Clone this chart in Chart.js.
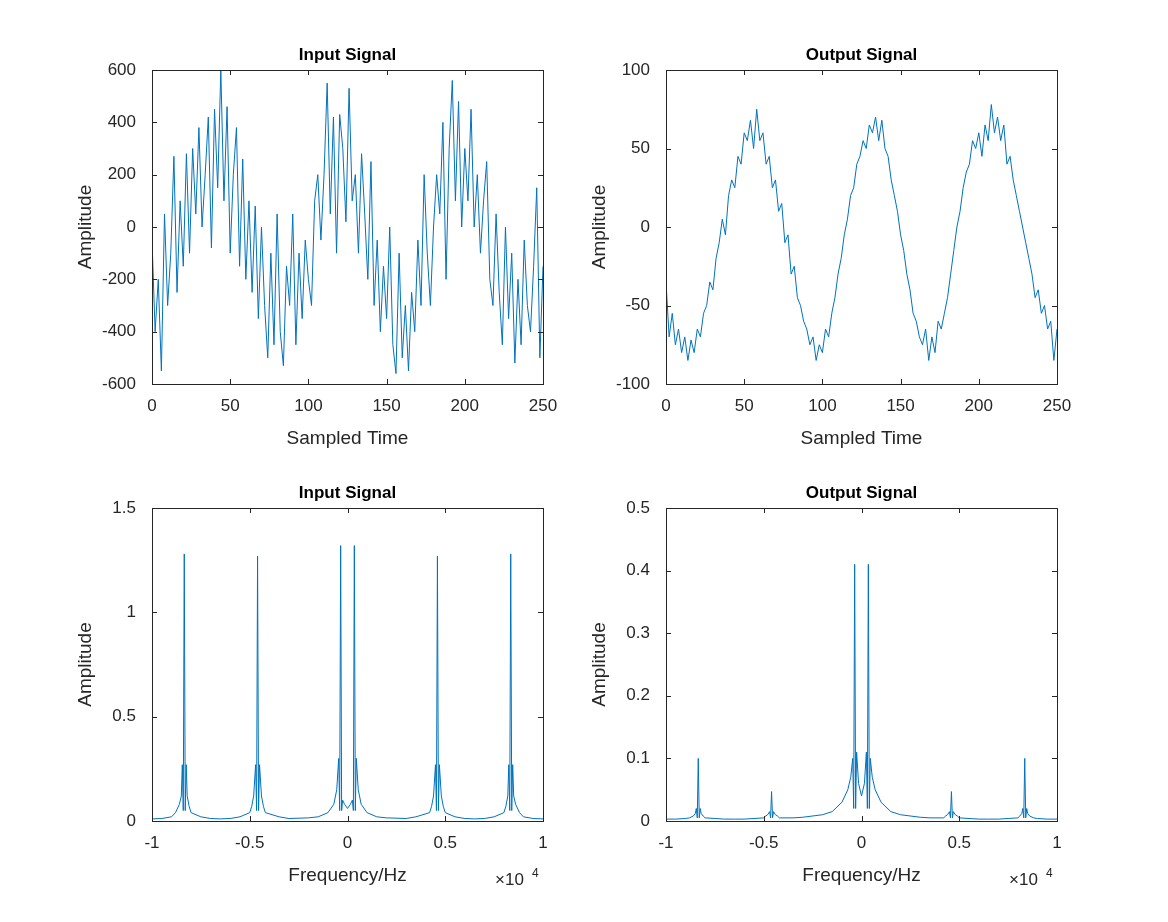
<!DOCTYPE html>
<html><head><meta charset="utf-8">
<script src="https://cdn.jsdelivr.net/npm/chart.js@4/dist/chart.umd.min.js"></script>
<style>
body{margin:0;background:#fff;width:1168px;height:922px;position:relative;overflow:hidden}
.c{position:absolute}
</style></head><body>
<div class="c" style="left:70px;top:44px;width:503px;height:410px"><canvas id="c1"></canvas></div>
<div class="c" style="left:584px;top:44px;width:503px;height:410px"><canvas id="c2"></canvas></div>
<div class="c" style="left:70px;top:482px;width:503px;height:409px"><canvas id="c3"></canvas></div>
<div class="c" style="left:584px;top:482px;width:503px;height:409px"><canvas id="c4"></canvas></div>
<script>
const inputSignal = [-50,-400,-200,-550,50,-300,-100,270,-250,100,-150,280,-100,300,50,380,0,200,420,-80,450,150,600,100,460,-100,200,380,-150,260,-200,100,-250,80,-350,0,-300,-500,-100,-450,50,-400,-530,-150,-300,50,-450,-100,-350,-50,-200,-300,100,200,-50,200,550,50,420,-100,430,300,20,530,100,200,-100,280,50,-200,250,-300,-50,-400,-150,-350,0,-450,-560,-100,-500,-300,-550,-250,-400,-50,-300,200,-100,-300,0,200,50,400,-200,300,560,100,480,0,300,100,450,0,200,-100,100,250,-200,-300,50,-250,-450,0,-350,-100,-520,-200,-450,-50,-300,-400,-150,150,-500,-150];
const outputSignal = [-35,-70,-55,-75,-65,-80,-70,-85,-72,-80,-65,-70,-55,-50,-35,-40,-20,-10,5,-5,20,30,25,45,40,60,55,68,50,75,55,60,40,45,25,30,10,15,-10,-5,-30,-25,-45,-50,-60,-65,-75,-70,-85,-75,-80,-65,-70,-55,-45,-30,-20,-5,5,20,25,40,45,55,50,65,60,70,55,68,50,45,30,20,10,-5,-15,-30,-40,-55,-60,-70,-75,-65,-85,-70,-80,-60,-65,-55,-45,-30,-15,0,10,25,35,40,55,50,60,45,65,55,78,60,70,55,65,40,45,30,20,10,0,-10,-20,-30,-45,-40,-55,-50,-65,-60,-85,-65];
const sampleTime = inputSignal.map((_, i) => i * 2);

const freqHz = [-10000,-9500,-9000,-8800,-8600,-8500,-8450,-8400,-8350,-8300,-8250,-8200,-8100,-8000,-7500,-7000,-6500,-6000,-5500,-5000,-4900,-4800,-4700,-4650,-4600,-4550,-4500,-4400,-4300,-4200,-3500,-3000,-2000,-1500,-1000,-700,-550,-450,-400,-350,-300,-250,-150,0,150,250,300,350,400,450,550,700,1000,1500,2000,3000,3500,4200,4300,4400,4500,4550,4600,4650,4700,4800,4900,5000,5500,6000,6500,7000,7500,8000,8100,8200,8250,8300,8350,8400,8450,8500,8600,8800,9000,9500,10000];
const inputSpectrum = [0.01,0.012,0.02,0.04,0.08,0.12,0.27,0.05,1.28,0.05,0.27,0.12,0.07,0.04,0.02,0.012,0.01,0.012,0.02,0.04,0.07,0.12,0.27,0.05,1.27,0.05,0.27,0.12,0.07,0.04,0.02,0.012,0.015,0.02,0.04,0.08,0.15,0.3,0.05,1.32,0.05,0.1,0.08,0.06,0.08,0.1,0.05,1.32,0.05,0.3,0.15,0.08,0.04,0.02,0.015,0.012,0.02,0.04,0.07,0.12,0.27,0.05,1.27,0.05,0.27,0.12,0.07,0.04,0.02,0.012,0.01,0.012,0.02,0.04,0.07,0.12,0.27,0.05,1.28,0.05,0.27,0.12,0.08,0.04,0.02,0.012,0.01];
const outputSpectrum = [0.003,0.003,0.004,0.005,0.008,0.012,0.02,0.005,0.1,0.005,0.02,0.012,0.008,0.005,0.004,0.003,0.003,0.003,0.004,0.005,0.008,0.01,0.015,0.005,0.047,0.005,0.015,0.01,0.008,0.005,0.005,0.006,0.01,0.015,0.03,0.05,0.07,0.1,0.02,0.41,0.02,0.11,0.06,0.04,0.06,0.11,0.02,0.41,0.02,0.1,0.07,0.05,0.03,0.015,0.01,0.006,0.005,0.005,0.008,0.01,0.015,0.005,0.047,0.005,0.015,0.01,0.008,0.005,0.004,0.003,0.003,0.003,0.004,0.005,0.008,0.012,0.02,0.005,0.1,0.005,0.02,0.012,0.008,0.005,0.004,0.003,0.003];

const FONT = "'Liberation Sans', Arial, sans-serif";
const TXT = '#262626';
const boxPlugin = {
  id:'box',
  afterDraw(chart){
    const {ctx, chartArea:a, scales} = chart;
    ctx.save();
    ctx.strokeStyle = '#262626'; ctx.lineWidth = 1;
    ctx.strokeRect(Math.round(a.left)+0.5, Math.round(a.top)+0.5, Math.round(a.right-a.left), Math.round(a.bottom-a.top));
    const L = 5;
    ctx.beginPath();
    scales.x.ticks.forEach(t=>{ const p=Math.round(scales.x.getPixelForValue(t.value))+0.5;
      ctx.moveTo(p,a.bottom); ctx.lineTo(p,a.bottom-L); ctx.moveTo(p,a.top); ctx.lineTo(p,a.top+L);});
    scales.y.ticks.forEach(t=>{ const p=Math.round(scales.y.getPixelForValue(t.value))+0.5;
      ctx.moveTo(a.left,p); ctx.lineTo(a.left+L,p); ctx.moveTo(a.right,p); ctx.lineTo(a.right-L,p);});
    ctx.stroke();
    ctx.fillStyle = '#000'; ctx.textAlign='center'; ctx.textBaseline='alphabetic';
    ctx.font = 'bold 17px '+FONT;
    ctx.fillText(chart.options.plugins.boxTitle, (a.left+a.right)/2, a.top-10);
    if (chart.options.plugins.expLabel) {
      ctx.fillStyle = TXT; ctx.textAlign='left';
      ctx.font = '17px '+FONT;
      ctx.fillText('\u00d710', a.right-48, a.bottom+64);
      ctx.font = '12px '+FONT;
      ctx.fillText('4', a.right-11, a.bottom+56);
    }
    ctx.restore();
  }
};

function make(id, title, xs, ys, xopt, yopt, xTitle, exp){
  new Chart(document.getElementById(id), {
    type:'line',
    data:{ datasets:[{ data: xs.map((x,i)=>({x, y:ys[i]})), borderColor:'#0072BD', borderWidth:1, pointRadius:0, tension:0 }]},
    options:{
      responsive:true, maintainAspectRatio:false, animation:false,
      layout:{ autoPadding:false, padding:{ right:30, top:26, left:0, bottom:0 } },
      plugins:{ legend:{display:false}, tooltip:{enabled:false}, title:{display:false},
        boxTitle: title, expLabel: exp },
      scales:{
        x:{ type:'linear', min:xopt.min, max:xopt.max,
          ticks:{ stepSize:xopt.step, color:TXT, font:{family:FONT,size:17}, padding:4, maxRotation:0,
            callback:xopt.cb || (v=>v) },
          grid:{ display:false }, border:{ display:false },
          title:{ display:true, text:xTitle, color:TXT, font:{family:FONT,size:19}, padding:{top:3} },
          afterFit(s){ s.height = 70; s.paddingLeft = 0; s.paddingRight = 0; } },
        y:{ min:yopt.min, max:yopt.max,
          ticks:{ stepSize:yopt.step, color:TXT, font:{family:FONT,size:17}, padding:8, callback:yopt.cb || (v=>v) },
          grid:{ display:false }, border:{ display:false },
          title:{ display:true, text:'Amplitude', color:TXT, font:{family:FONT,size:19}, padding:{bottom:2} },
          afterFit(s){ s.width = 82; s.paddingTop = 0; s.paddingBottom = 0; } }
      }
    },
    plugins:[boxPlugin]
  });
}
make('c1','Input Signal', sampleTime, inputSignal, {min:0,max:250,step:50}, {min:-600,max:600,step:200}, 'Sampled Time', false);
make('c2','Output Signal', sampleTime, outputSignal, {min:0,max:250,step:50}, {min:-100,max:100,step:50}, 'Sampled Time', false);
const fcb = v => { const r = v/10000; return r===0?'0':String(r); };
make('c3','Input Signal', freqHz, inputSpectrum, {min:-10000,max:10000,step:5000,cb:fcb}, {min:0,max:1.5,step:0.5}, 'Frequency/Hz', true);
make('c4','Output Signal', freqHz, outputSpectrum, {min:-10000,max:10000,step:5000,cb:fcb}, {min:0,max:0.5,step:0.1,cb:v=>Number(v.toFixed(1))}, 'Frequency/Hz', true);
</script>
</body></html>
